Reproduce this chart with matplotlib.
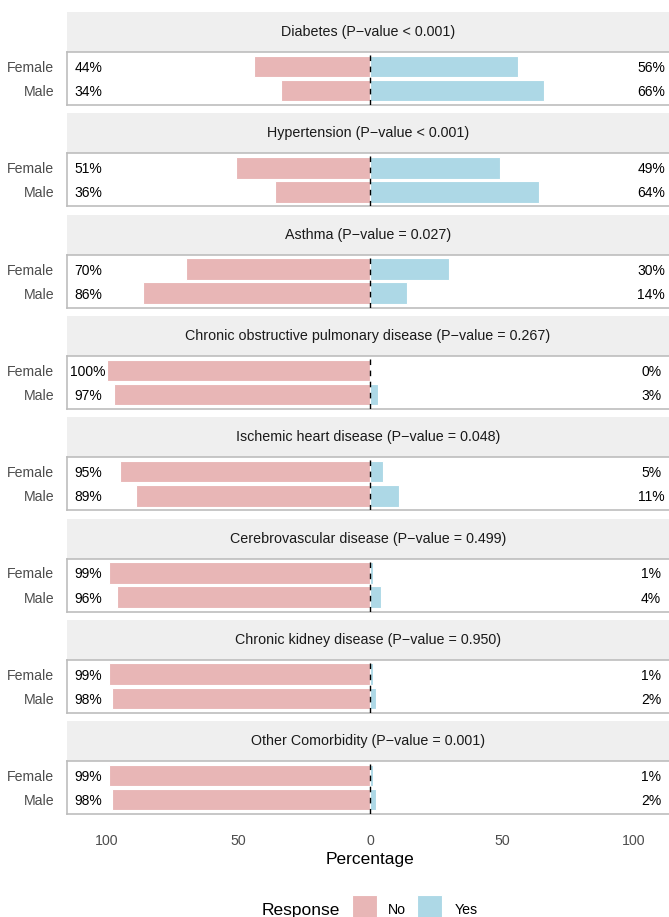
import matplotlib
matplotlib.use('Agg')
import matplotlib.pyplot as plt
from matplotlib.patches import Rectangle

plt.rcParams['font.family'] = ['Liberation Sans', 'DejaVu Sans']

# -----------------------------
# Data
# -----------------------------
conditions = [
    "Diabetes (P\u2212value < 0.001)",
    "Hypertension (P\u2212value < 0.001)",
    "Asthma (P\u2212value = 0.027)",
    "Chronic obstructive pulmonary disease (P\u2212value = 0.267)",
    "Ischemic heart disease (P\u2212value = 0.048)",
    "Cerebrovascular disease (P\u2212value = 0.499)",
    "Chronic kidney disease (P\u2212value = 0.950)",
    "Other Comorbidity (P\u2212value = 0.001)",
]
sexes = ["Female", "Male"]
no_female = [44, 51, 70, 100, 95, 99, 99, 99]
no_male = [34, 36, 86, 97, 89, 96, 98, 98]
yes_female = [56, 49, 30, 0, 5, 1, 1, 1]
yes_male = [66, 64, 14, 3, 11, 4, 2, 2]
x_ticks = [-100, -50, 0, 50, 100]
x_ticklabels = ["100", "50", "0", "50", "100"]

COL_NO = "#E8B6B6"
COL_YES = "#ADD8E6"
STRIP_BG = "#EFEFEF"
BORDER = "#BDBDBD"

W, H = 669, 917
fig = plt.figure(figsize=(W / 100, H / 100), dpi=100)

# layout in pixels
left_px = 67
right_px = 673.6
strip_h = 40
panel_h = 53
period = 101.3
top0 = 12

def frac_box(x0, y0, w, h):
    return [x0 / W, 1 - (y0 + h) / H, w / W, h / H]

for i, title in enumerate(conditions):
    strip_top = top0 + i * period
    panel_top = strip_top + strip_h

    # facet strip
    sax = fig.add_axes(frac_box(left_px, strip_top, right_px - left_px, strip_h))
    sax.set_facecolor(STRIP_BG)
    sax.set_xticks([])
    sax.set_yticks([])
    for sp in sax.spines.values():
        sp.set_visible(False)
    sax.text(0.5 * (669 - left_px) / (right_px - left_px), 0.5, title,
             transform=sax.transAxes, ha='center', va='center',
             fontsize=10.3, color='#1A1A1A')

    # panel
    ax = fig.add_axes(frac_box(left_px, panel_top, right_px - left_px, panel_h))
    ax.set_xlim(-115, 115)
    ax.set_ylim(2.6, 0.4)
    no_vals = [no_female[i], no_male[i]]
    yes_vals = [yes_female[i], yes_male[i]]
    ypos = [1, 2]
    ax.barh(ypos, [-v for v in no_vals], height=0.9, color=COL_NO,
            edgecolor='white', linewidth=0.8, zorder=2)
    ax.barh(ypos, yes_vals, height=0.9, color=COL_YES,
            edgecolor='white', linewidth=0.8, zorder=2)
    ax.axvline(0, color='black', linestyle=(0, (4, 4)), linewidth=1.0, zorder=3)
    for y, nv, yv in zip(ypos, no_vals, yes_vals):
        ax.text(-107, y, f"{nv}%", ha='center', va='center_baseline', fontsize=10, color='black', zorder=4)
        ax.text(106.5, y, f"{yv}%", ha='center', va='center_baseline', fontsize=10, color='black', zorder=4)

    ax.set_yticks(ypos)
    ax.set_yticklabels(sexes, fontsize=10.2, color='#4D4D4D')
    ax.tick_params(axis='y', length=0, pad=9)
    for sp in ax.spines.values():
        sp.set_color(BORDER)
        sp.set_linewidth(1.2)
    if i == len(conditions) - 1:
        ax.set_xticks(x_ticks)
        ax.set_xticklabels(x_ticklabels, fontsize=10.2, color='#4D4D4D')
        ax.tick_params(axis='x', length=0, pad=14)
        ax.set_xlabel("Percentage", fontsize=12.5, color='black')
        ax.xaxis.set_label_coords((370 - left_px) / (right_px - left_px), -0.72)
    else:
        ax.set_xticks([])

# legend at bottom
fig.text(262 / W, 1 - 910 / H, "Response", fontsize=12.5, ha='left', va='center', color='black')
key_w, key_h = 25, 24
for x0, col, lab, lx in [(352, COL_NO, "No", 388), (417, COL_YES, "Yes", 455)]:
    fig.patches.append(Rectangle((x0 / W, 1 - (895 + key_h) / H), key_w / W, key_h / H,
                                 transform=fig.transFigure, facecolor=col,
                                 edgecolor='white', linewidth=0.8))
    fig.text(lx / W, 1 - 910 / H, lab, fontsize=10.2, ha='left', va='center', color='black')

fig.savefig("out.png", dpi=100)
